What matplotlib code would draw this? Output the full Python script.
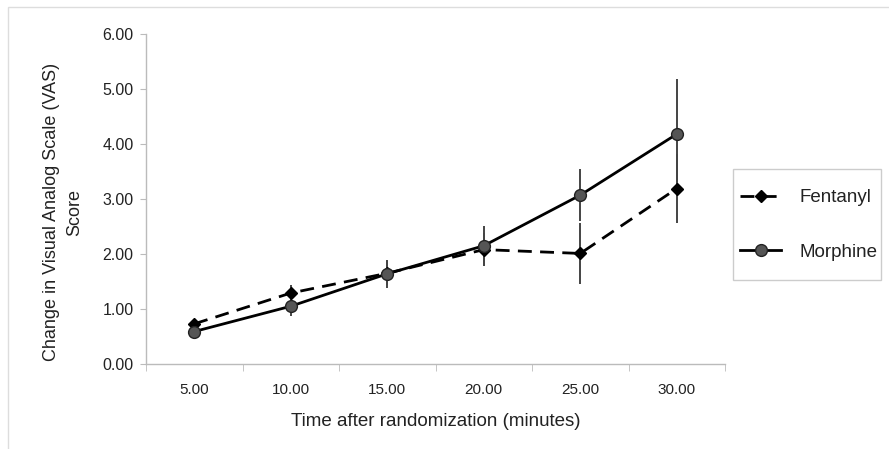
import matplotlib
matplotlib.use("Agg")
import matplotlib.pyplot as plt
from matplotlib.patches import Rectangle
import numpy as np

categories = ["5.00", "10.00", "15.00", "20.00", "25.00", "30.00"]
fentanyl = [0.73, 1.29, 1.65, 2.08, 2.01, 3.19]
fentanyl_err = [0.05, 0.15, 0.22, 0.30, 0.56, 0.63]
morphine = [0.59, 1.05, 1.64, 2.15, 3.07, 4.18]
morphine_err = [0.06, 0.18, 0.25, 0.36, 0.47, 1.01]
yticks = [0, 1, 2, 3, 4, 5, 6]

plt.rcParams['font.family'] = ['Liberation Sans', 'DejaVu Sans']

fig = plt.figure(figsize=(8.89, 4.49), dpi=100)
W, H = 889, 449
ax = fig.add_axes([146 / W, 1 - 364 / H, (725 - 146) / W, (364 - 34) / H])

x = np.arange(len(categories))
ecol = '#444444'
ax.errorbar(x, fentanyl, yerr=fentanyl_err, fmt='none', ecolor=ecol, elinewidth=1.4, capsize=0, zorder=2)
ax.errorbar(x, morphine, yerr=morphine_err, fmt='none', ecolor=ecol, elinewidth=1.4, capsize=0, zorder=2)
ax.plot(x, fentanyl, color='black', linestyle=(0, (5, 3)), linewidth=2, marker='D', markersize=6,
        markerfacecolor='black', markeredgecolor='black', label='Fentanyl', zorder=3)
ax.plot(x, morphine, color='black', linestyle='-', linewidth=2, marker='o', markersize=8.5,
        markerfacecolor='#555555', markeredgecolor='#222222', markeredgewidth=1, label='Morphine', zorder=4)

ax.set_xlim(-0.5, len(categories) - 0.5)
ax.set_ylim(0, 6)
ax.set_yticks(yticks)
ax.set_yticklabels([f"{v:.2f}" for v in yticks])
ax.set_xticks(x)
ax.set_xticklabels(categories)
ax.set_xticks(np.arange(len(categories) + 1) - 0.5, minor=True)
ax.tick_params(axis='x', which='major', length=0, pad=14, labelsize=11, labelcolor='#222222')
ax.tick_params(axis='x', which='minor', length=5, color='#bbbbbb', direction='out')
ax.tick_params(axis='y', length=4, color='#bbbbbb', direction='out', pad=5, labelsize=11.5, labelcolor='#222222')

for s in ['top', 'right']:
    ax.spines[s].set_visible(False)
for s in ['left', 'bottom']:
    ax.spines[s].set_color('#bbbbbb')
    ax.spines[s].set_linewidth(1)

ax.set_xlabel("Time after randomization (minutes)", fontsize=13.5, color='#222222', labelpad=11)
fig.text(63 / W, 1 - 212 / H, "Change in Visual Analog Scale (VAS)\nScore", rotation=90,
         ha='center', va='center', fontsize=13, color='#222222', multialignment='center',
         linespacing=1.45)

leg = ax.legend(loc='center left', bbox_to_anchor=(740 / W, 1 - 225 / H), bbox_transform=fig.transFigure,
                frameon=False, fontsize=13.5, handlelength=2.2, labelspacing=2.0,
                borderpad=0, handletextpad=0.95, borderaxespad=0)
for t in leg.get_texts():
    t.set_color('#222222')

fig.patches.append(Rectangle((733 / W, 1 - 280 / H), (881 - 733) / W, (280 - 169) / H,
                             transform=fig.transFigure, fill=False, edgecolor='#cccccc', linewidth=1))
fig.patches.append(Rectangle((8 / W, -0.1), 1.2, 1 - 7 / H + 0.1, transform=fig.transFigure,
                             fill=False, edgecolor='#dddddd', linewidth=1))

fig.savefig("out.png", dpi=100, facecolor='white')
